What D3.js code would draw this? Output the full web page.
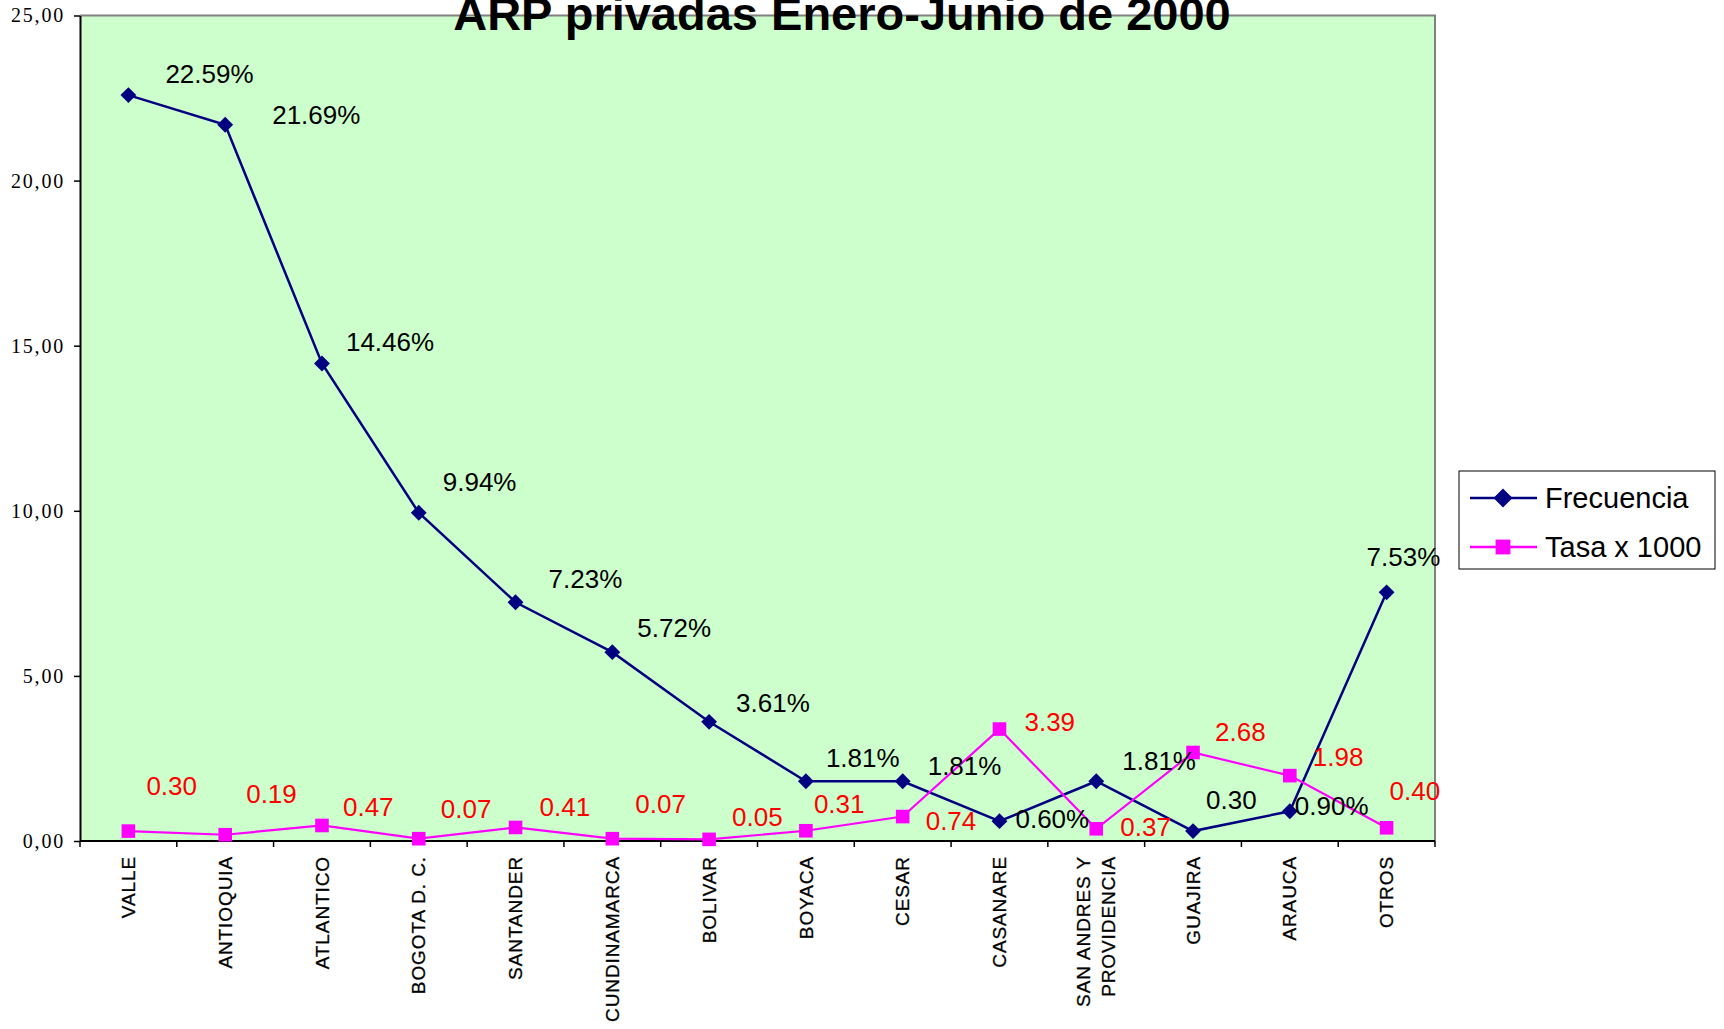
<!DOCTYPE html>
<html>
<head>
<meta charset="utf-8">
<script src="https://cdnjs.cloudflare.com/ajax/libs/d3/7.8.5/d3.min.js"></script>
<style>
  body { margin: 0; background: #fff; }
  svg { display: block; }
</style>
</head>
<body>
<div id="chart"></div>
<script>
const categories = ["VALLE", "ANTIOQUIA", "ATLANTICO", "BOGOTA D. C.", "SANTANDER",
  "CUNDINAMARCA", "BOLIVAR", "BOYACA", "CESAR", "CASANARE",
  "SAN ANDRES Y\nPROVIDENCIA", "GUAJIRA", "ARAUCA", "OTROS"];
const frecuencia = [22.59, 21.69, 14.46, 9.94, 7.23, 5.72, 3.61, 1.81, 1.81, 0.60, 1.81, 0.30, 0.90, 7.53];
const frecuenciaLabels = ["22.59%", "21.69%", "14.46%", "9.94%", "7.23%", "5.72%", "3.61%",
  "1.81%", "1.81%", "0.60%", "1.81%", "0.30", "0.90%", "7.53%"];
const tasa = [0.30, 0.19, 0.47, 0.07, 0.41, 0.07, 0.05, 0.31, 0.74, 3.39, 0.37, 2.68, 1.98, 0.40];
const tasaLabels = ["0.30", "0.19", "0.47", "0.07", "0.41", "0.07", "0.05", "0.31", "0.74",
  "3.39", "0.37", "2.68", "1.98", "0.40"];
const yTicks = [0, 5, 10, 15, 20, 25];
const seriesNames = ["Frecuencia", "Tasa x 1000"];
const title = "ARP privadas Enero-Junio de 2000";

// label nudges (dx, dy) as placed by hand in the original
const frecNudge = [[37, -21], [47, -10], [24, -22], [24, -31], [33, -23], [25, -24], [27, -19],
  [20, -23], [25, -15], [16, -2], [26, -20], [13, -31], [5, -5], [-20, -35]];
const tasaNudge = [[18, -45], [21, -41], [21, -19], [22, -30], [24, -21], [23, -35], [23, -22],
  [8, -27], [23, 4], [25, -7], [24, -2], [22, -21], [23, -19], [3, -37]];

const W = 1724, H = 1029;
const plot = { left: 80, right: 1435, top: 15.5, bottom: 841 };

const svg = d3.select("#chart").append("svg")
  .attr("width", W)
  .attr("height", H)
  .style("font-family", "'Liberation Sans', Arial, sans-serif");

const x = d3.scaleBand()
  .domain(categories)
  .range([plot.left, plot.right])
  .padding(0);
const y = d3.scaleLinear()
  .domain([0, 25])
  .range([plot.bottom, plot.top]);

const cx = function(i) { return x(categories[i]) + x.bandwidth() / 2; };

// plot area
svg.append("rect")
  .attr("x", plot.left)
  .attr("y", plot.top)
  .attr("width", plot.right - plot.left)
  .attr("height", plot.bottom - plot.top)
  .attr("fill", "#ccffcc");

svg.append("path")
  .attr("d", "M" + plot.left + "," + plot.top + "H" + plot.right + "V" + plot.bottom)
  .attr("fill", "none")
  .attr("stroke", "#808080")
  .attr("stroke-width", 2);

// y axis
const locale = d3.formatLocale({ decimal: ",", thousands: ".", grouping: [3], currency: ["", ""] });
const yAxis = d3.axisLeft(y)
  .tickValues(yTicks)
  .tickFormat(locale.format(".2f"))
  .tickSize(6)
  .tickSizeOuter(0)
  .tickPadding(9);

const gy = svg.append("g")
  .attr("transform", "translate(" + plot.left + ",0)")
  .call(yAxis);
gy.select(".domain").attr("stroke", "#000").attr("stroke-width", 2);
gy.selectAll(".tick line").attr("stroke", "#000").attr("stroke-width", 1.5);
gy.selectAll(".tick text")
  .attr("fill", "#000")
  .style("font-family", "'Liberation Serif', 'Times New Roman', serif")
  .style("font-size", "20px")
  .style("letter-spacing", "1.8px");

// x axis: ticks sit on the band edges
const gx = svg.append("g");
gx.append("line")
  .attr("x1", plot.left).attr("x2", plot.right)
  .attr("y1", plot.bottom).attr("y2", plot.bottom)
  .attr("stroke", "#000").attr("stroke-width", 2);
gx.selectAll(".xtick")
  .data(categories.concat(["_end"]))
  .enter().append("line")
  .attr("class", "xtick")
  .attr("x1", function(d, i) { return plot.left + i * x.step(); })
  .attr("x2", function(d, i) { return plot.left + i * x.step(); })
  .attr("y1", plot.bottom)
  .attr("y2", plot.bottom + 6)
  .attr("stroke", "#000")
  .attr("stroke-width", 1.5);

gx.selectAll(".xlabel")
  .data(categories)
  .enter().append("text")
  .attr("class", "xlabel")
  .attr("transform", function(d, i) { return "translate(" + cx(i) + "," + (plot.bottom + 15) + ") rotate(-90)"; })
  .attr("text-anchor", "end")
  .attr("fill", "#000")
  .attr("stroke", "#000")
  .attr("stroke-width", 0.3)
  .style("font-size", "19px")
  .style("letter-spacing", "0.9px")
  .each(function(d) {
    const lines = d.split("\n");
    const t = d3.select(this);
    lines.forEach(function(line, k) {
      t.append("tspan")
        .attr("x", 0)
        .attr("y", (k - (lines.length - 1) / 2) * 25)
        .attr("dy", "0.35em")
        .text(line);
    });
  });

// series lines
const line = d3.line()
  .x(function(d, i) { return cx(i); })
  .y(function(d) { return y(d); });

svg.append("path")
  .datum(frecuencia)
  .attr("d", line)
  .attr("fill", "none")
  .attr("stroke", "#000080")
  .attr("stroke-width", 2.5);

svg.append("path")
  .datum(tasa)
  .attr("d", line)
  .attr("fill", "none")
  .attr("stroke", "#ff00ff")
  .attr("stroke-width", 2.2);

const diamond = d3.symbol().type(d3.symbolDiamond2).size(160);
const square = d3.symbol().type(d3.symbolSquare).size(185);

svg.selectAll(".mfrec")
  .data(frecuencia)
  .enter().append("path")
  .attr("class", "mfrec")
  .attr("d", diamond)
  .attr("transform", function(d, i) { return "translate(" + cx(i) + "," + y(d) + ")"; })
  .attr("fill", "#000080");

svg.selectAll(".mtasa")
  .data(tasa)
  .enter().append("path")
  .attr("class", "mtasa")
  .attr("d", square)
  .attr("transform", function(d, i) { return "translate(" + cx(i) + "," + y(d) + ")"; })
  .attr("fill", "#ff00ff");

// data labels
svg.selectAll(".lfrec")
  .data(frecuencia)
  .enter().append("text")
  .attr("class", "lfrec")
  .attr("x", function(d, i) { return cx(i) + frecNudge[i][0]; })
  .attr("y", function(d, i) { return y(d) + frecNudge[i][1]; })
  .attr("dy", "0.35em")
  .style("font-size", "26px")
  .attr("fill", "#000")
  .text(function(d, i) { return frecuenciaLabels[i]; });

svg.selectAll(".ltasa")
  .data(tasa)
  .enter().append("text")
  .attr("class", "ltasa")
  .attr("x", function(d, i) { return cx(i) + tasaNudge[i][0]; })
  .attr("y", function(d, i) { return y(d) + tasaNudge[i][1]; })
  .attr("dy", "0.35em")
  .style("font-size", "26px")
  .attr("fill", "#ff0000")
  .text(function(d, i) { return tasaLabels[i]; });

// title
svg.append("text")
  .attr("x", 842)
  .attr("y", 30)
  .attr("text-anchor", "middle")
  .style("font-size", "47px")
  .style("font-weight", "bold")
  .attr("fill", "#000")
  .text(title);

// legend
const legend = svg.append("g").attr("transform", "translate(1459,471)");
legend.append("rect")
  .attr("width", 256)
  .attr("height", 98)
  .attr("fill", "#fff")
  .attr("stroke", "#000")
  .attr("stroke-width", 1);

const legendRows = legend.selectAll(".lrow")
  .data(seriesNames)
  .enter().append("g")
  .attr("class", "lrow")
  .attr("transform", function(d, i) { return "translate(0," + (27 + i * 49) + ")"; });

legendRows.append("line")
  .attr("x1", 11).attr("x2", 78)
  .attr("stroke", function(d, i) { return i === 0 ? "#000080" : "#ff00ff"; })
  .attr("stroke-width", 2.5);
legendRows.append("path")
  .attr("d", function(d, i) { return i === 0 ? d3.symbol().type(d3.symbolDiamond2).size(230)() : d3.symbol().type(d3.symbolSquare).size(220)(); })
  .attr("transform", "translate(44,0)")
  .attr("fill", function(d, i) { return i === 0 ? "#000080" : "#ff00ff"; });
legendRows.append("text")
  .attr("x", 86)
  .attr("dy", "0.35em")
  .style("font-size", "29px")
  .attr("fill", "#000")
  .text(function(d) { return d; });
</script>
</body>
</html>
